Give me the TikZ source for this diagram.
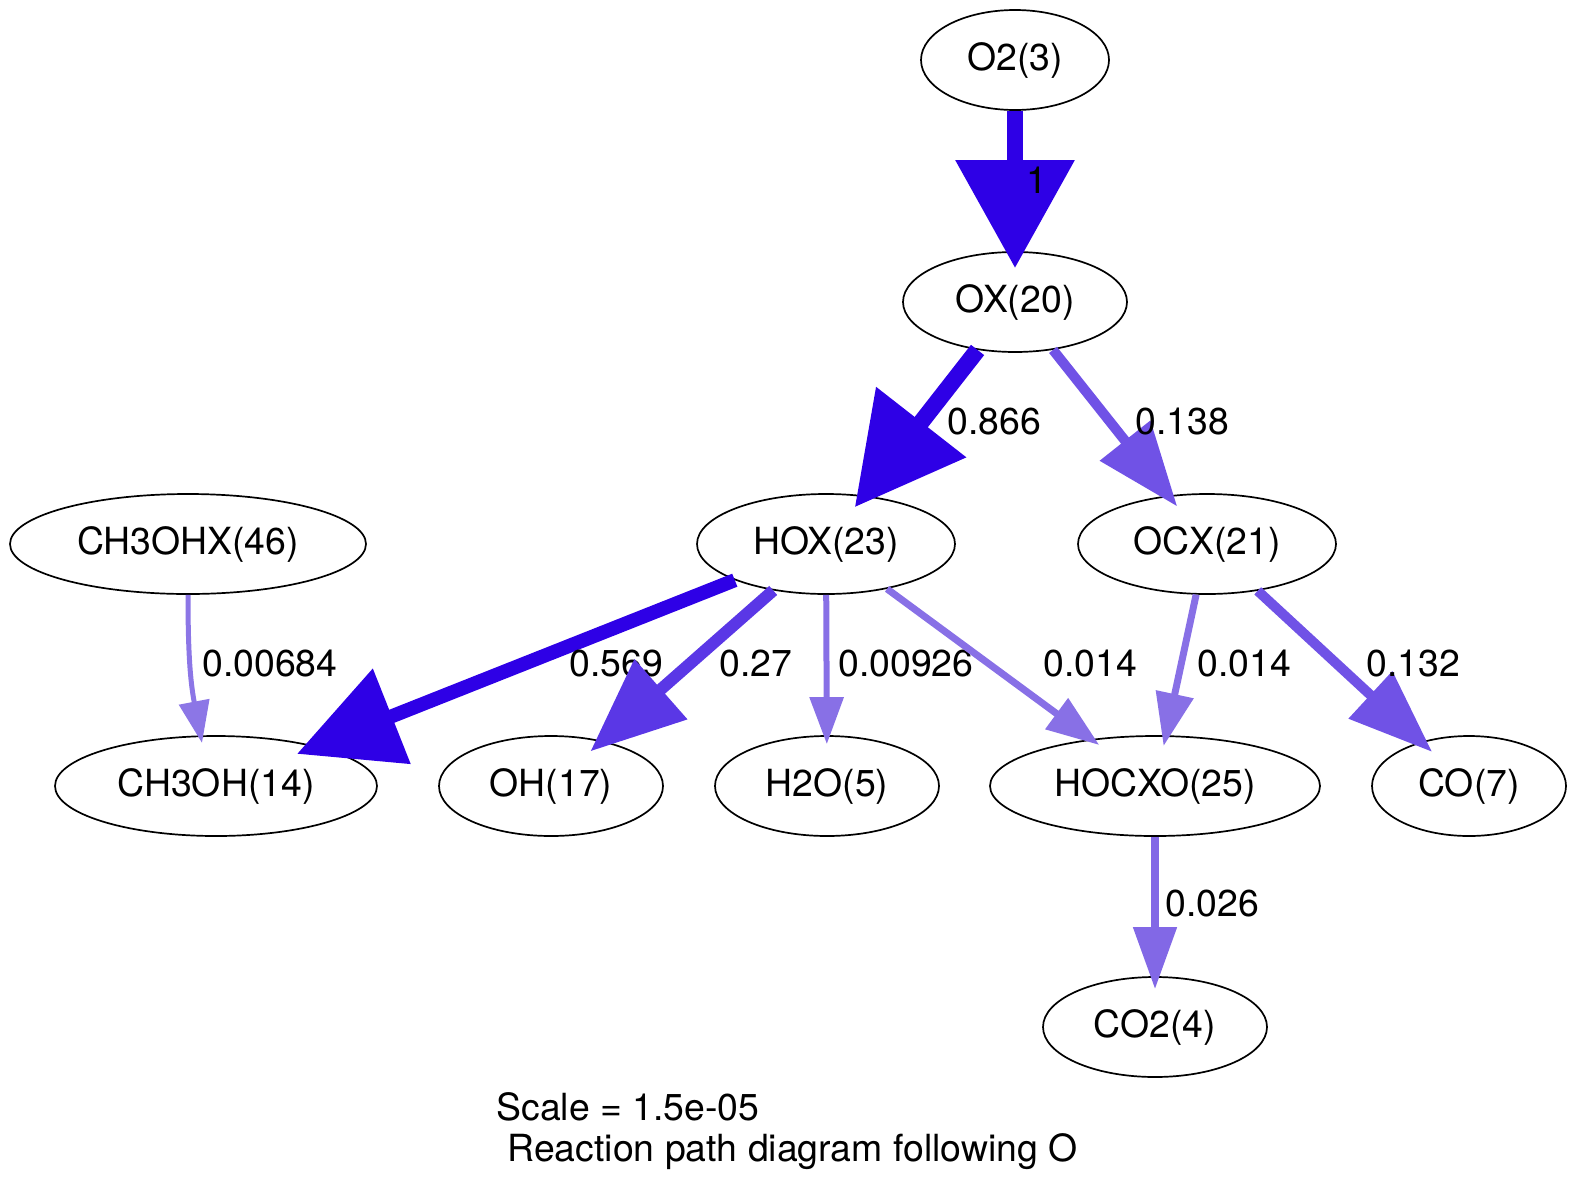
\documentclass[tikz,border=0pt]{standalone}
\usepackage{fontspec}
\setmainfont{TeX Gyre Heros}
\usetikzlibrary{shapes.geometric,arrows.meta}
\definecolor{cDark}{RGB}{46,0,230}
\definecolor{cMidA}{RGB}{90,55,230}
\definecolor{cMidB}{RGB}{112,82,230}
\definecolor{cLightA}{RGB}{130,104,230}
\definecolor{cLightB}{RGB}{136,112,230}
\definecolor{cLightC}{RGB}{140,118,230}
\tikzset{
  species/.style={ellipse, draw=black, line width=0.85pt, inner sep=0pt, minimum height=50pt},
  flux/.style={inner sep=0pt, anchor=base west},
  edge/.style={line cap=butt},
}
\begin{document}
\begin{tikzpicture}[x=0.5pt,y=0.5pt,font=\fontsize{18.7}{22.5}\selectfont]
\useasboundingbox (0,0) rectangle (1577,-1194);
% nodes
\node[species, minimum width=94pt]  (o2)     at (1015,-60)   {O2(3)};
\node[species, minimum width=112pt] (ox)     at (1015,-302)  {OX(20)};
\node[species, minimum width=129pt] (hox)    at (826,-544)   {HOX(23)};
\node[species, minimum width=129pt] (ocx)    at (1207,-544)  {OCX(21)};
\node[species, minimum width=178pt] (ch3ohx) at (188,-544)   {CH3OHX(46)};
\node[species, minimum width=161pt] (ch3oh)  at (216,-786)   {CH3OH(14)};
\node[species, minimum width=112pt] (oh)     at (551,-786)   {OH(17)};
\node[species, minimum width=112pt] (h2o)    at (827,-786)   {H2O(5)};
\node[species, minimum width=165pt] (hocxo)  at (1155,-786)  {HOCXO(25)};
\node[species, minimum width=97pt]  (co)     at (1469,-786)  {CO(7)};
\node[species, minimum width=112pt] (co2)    at (1155,-1027) {CO2(4)};
% edges with labels
\draw[edge, cDark, line width=8.35pt, -{Triangle[length=54pt,width=57.5pt]}, shorten >=-8.5pt] (o2) -- (ox);
\node[flux] (l1) at (1026,-193) {1};
\draw[edge, cDark, line width=8.35pt, -{Triangle[length=54pt,width=55pt]}, shorten >=-7.5pt] (ox) -- (hox);
\node[flux] (l2) at (947,-434) {0.866};
\draw[edge, cMidB, line width=5pt, -{Triangle[length=42pt,width=31pt]}, shorten >=-7pt] (ox) -- (ocx);
\node[flux] (l3) at (1135,-434) {0.138};
\draw[edge, cDark, line width=7pt, -{Triangle[length=51pt,width=49.5pt]}, shorten >=-10.5pt] (hox) -- (ch3oh);
\node[flux] (l4) at (569,-676) {0.569};
\draw[edge, cMidA, line width=6pt, -{Triangle[length=47pt,width=38.5pt]}, shorten >=-8pt] (hox) -- (oh);
\node[flux] (l5) at (719,-676) {0.27};
\draw[edge, cLightB, line width=3pt, -{Triangle[length=23.5pt,width=16.5pt]}, shorten >=-4.5pt] (hox) -- (h2o);
\node[flux] (l6) at (838,-676) {0.00926};
\draw[edge, cLightB, line width=3.5pt, -{Triangle[length=26.5pt,width=18.5pt]}, shorten >=-5pt] (hox) -- (hocxo);
\node[flux] (l7) at (1043,-676) {0.014};
\draw[edge, cLightB, line width=3.5pt, -{Triangle[length=26.5pt,width=18.5pt]}, shorten >=-5.5pt] (ocx) -- (hocxo);
\node[flux] (l8) at (1197,-676) {0.014};
\draw[edge, cMidB, line width=5pt, -{Triangle[length=42pt,width=31pt]}, shorten >=-7.5pt] (ocx) -- (co);
\node[flux] (l9) at (1366,-676) {0.132};
\coordinate (tipA) at (202,-743);
\draw[edge, cLightC, line width=2.5pt, -{Triangle[length=21pt,width=15pt]}] (ch3ohx.south) .. controls (188,-650) and (190,-680) .. (tipA);
\node[flux] (l10) at (202,-676) {0.00684};
\draw[edge, cLightA, line width=4pt, -{Triangle[length=31pt,width=21pt]}, shorten >=-6.5pt] (hocxo) -- (co2);
\node[flux] (l11) at (1165,-916) {0.026};
% caption
\node[flux] (cap1) at (496,-1120) {Scale = 1.5e-05};
\node[flux] (cap2) at (507,-1161) {Reaction path diagram following O};
\end{tikzpicture}
\end{document}
